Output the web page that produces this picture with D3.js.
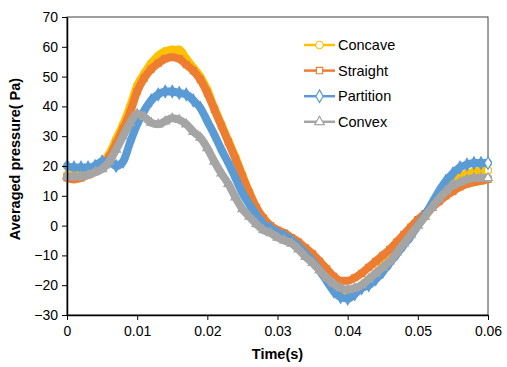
<!DOCTYPE html>
<html>
<head>
<meta charset="utf-8">
<script src="https://cdn.jsdelivr.net/npm/d3@7"></script>
<style>
  body { margin: 0; background: #fff; }
  text { font-family: "Liberation Sans", Arial, sans-serif; }
</style>
</head>
<body>
<script>
// time axis, one reading every 0.001 s
var times = d3.range(0, 61).map(i => i / 1000);

var concave = [17, 17, 17.5, 18, 19, 21, 24, 29, 34, 40,
  47, 51, 54.5, 57, 58.5, 59, 59, 56, 53, 50,
  45.5, 39.5, 34, 28.5, 23, 17, 11, 6, 2.5, 0,
  -2, -3.5, -4.5, -6.5, -8.5, -11, -13.5, -16.5, -19.5, -21.5,
  -22, -21.5, -20, -18, -16, -13.5, -11.5, -9, -6, -3,
  0, 3, 6, 9, 12, 14.5, 16.5, 17.5, 18, 18.5, 18.5];

var straight = [16, 15.5, 16, 17, 18, 20, 23, 27.5, 32.5, 38,
  45, 49.5, 52.5, 54.5, 56, 56.5, 56, 54, 52, 49,
  44.5, 39, 33.5, 28, 22.5, 16.5, 11, 6, 2.5, 0,
  -1.5, -2.5, -4, -5.5, -7.5, -9.5, -12, -14.5, -17, -18.5,
  -18.5, -17.5, -16, -14, -12, -10, -8, -5.5, -3, -0.5,
  2, 4, 6, 8, 10, 11.5, 13, 14, 14.5, 15, 15.5];

var partition = [20, 19.5, 19.5, 19.5, 20, 21.5, 21.5, 20, 21.5, 28,
  34, 38.5, 42, 44, 45, 45, 44.5, 44, 42, 39.5,
  35, 30.5, 25.5, 21, 16, 11, 7, 3.5, 0.5, -1,
  -2.5, -3.5, -5, -7, -9.5, -12, -15, -18.5, -22, -24,
  -24.5, -23, -21, -20, -18, -15.5, -12.5, -9.5, -6.5, -3.5,
  0, 3.5, 7.5, 11.5, 15, 17.5, 19.5, 20.5, 21, 21, 21];

var convex = [16.5, 16.5, 16.5, 17, 18, 19, 21.5, 25.5, 30, 34.5,
  37.5, 36.5, 34.5, 34, 35, 36, 35.5, 34, 31.5, 29.5,
  26, 21.5, 17.5, 14, 9.5, 5.5, 3, 0.5, -1.5, -2.5,
  -4, -5, -6, -8, -10.5, -12.5, -15, -17.5, -19.5, -21,
  -21.5, -21, -20, -18, -16, -14, -12, -9, -6, -3,
  0, 3, 6, 9, 11.5, 13.5, 14.5, 15.5, 16, 16, 16];

var seriesNames = ["Concave", "Straight", "Partition", "Convex"];
var seriesValues = [concave, straight, partition, convex];
var seriesColors = ["#FFC000", "#ED7D31", "#5B9BD5", "#A5A5A5"];
var seriesSymbols = [d3.symbolCircle, d3.symbolSquare, d3.symbolDiamond, d3.symbolTriangle];
var plotSizes = [40, 36, 44, 34];
var legendSizes = [44, 40, 46, 40];

var xTicks = [0, 0.01, 0.02, 0.03, 0.04, 0.05, 0.06];
var yTicks = [-30, -20, -10, 0, 10, 20, 30, 40, 50, 60, 70];

var svgWidth = 507;
var svgHeight = 367;

var margin = { top: 17, right: 19, bottom: 52, left: 67 };
var width = svgWidth - margin.left - margin.right;
var height = svgHeight - margin.top - margin.bottom;

var svg = d3.select("body")
  .append("svg")
  .attr("width", svgWidth)
  .attr("height", svgHeight);

var chartGroup = svg.append("g")
  .attr("transform", `translate(${margin.left}, ${margin.top})`);

var xScale = d3.scaleLinear().domain([0, 0.06]).range([0, width]);
var yScale = d3.scaleLinear().domain([-30, 70]).range([height, 0]);

// frame on top and right
chartGroup.append("rect")
  .attr("width", width)
  .attr("height", height)
  .attr("fill", "none")
  .attr("stroke", "#404040")
  .attr("stroke-width", 1);

// series
seriesValues.forEach(function(vals, i) {
  var pts = times.map((t, j) => ({ t: t, v: vals[j] }));
  var line = d3.line()
    .x(d => xScale(d.t))
    .y(d => yScale(d.v))
    .curve(d3.curveMonotoneX);

  var g = chartGroup.append("g");

  g.append("path")
    .datum(pts)
    .attr("d", line)
    .attr("fill", "none")
    .attr("stroke", seriesColors[i])
    .attr("stroke-width", 8)
    .attr("stroke-linejoin", "round")
    .attr("stroke-linecap", "round");

  g.selectAll("path.marker")
    .data(pts)
    .enter()
    .append("path")
    .attr("class", "marker")
    .attr("d", d3.symbol().type(seriesSymbols[i]).size(plotSizes[i]))
    .attr("transform", d => `translate(${xScale(d.t)}, ${yScale(d.v)})`)
    .attr("fill", (d, j) => j == pts.length - 1 ? "#fff" : seriesColors[i])
    .attr("stroke", seriesColors[i])
    .attr("stroke-width", 1.2);
});

// axes
var bottomAxis = d3.axisBottom(xScale)
  .tickValues(xTicks)
  .tickSize(5)
  .tickSizeOuter(0)
  .tickFormat(d => d === 0 ? "0" : d3.format(".2f")(d));
var leftAxis = d3.axisLeft(yScale)
  .tickValues(yTicks)
  .tickSize(5)
  .tickSizeOuter(0);

var xAxisG = chartGroup.append("g")
  .attr("transform", `translate(0, ${height})`)
  .call(bottomAxis);
var yAxisG = chartGroup.append("g").call(leftAxis);

[xAxisG, yAxisG].forEach(function(ax) {
  ax.select(".domain").attr("stroke", "#000").attr("stroke-width", 1.5);
  ax.selectAll(".tick line").attr("stroke", "#000").attr("stroke-width", 1);
  ax.selectAll(".tick text")
    .attr("font-family", "Liberation Sans, Arial, sans-serif")
    .attr("font-size", 14)
    .attr("fill", "#000");
});
xAxisG.selectAll(".tick text").attr("dy", "0.95em");
yAxisG.selectAll(".tick text").attr("x", -9);

// axis titles
svg.append("text")
  .attr("transform", `translate(20, ${margin.top + height / 2 - 7}) rotate(-90)`)
  .attr("text-anchor", "middle")
  .attr("font-size", 14.5)
  .attr("font-weight", "bold")
  .text("Averaged pressure( Pa)");

svg.append("text")
  .attr("x", margin.left + width / 2)
  .attr("y", 359)
  .attr("text-anchor", "middle")
  .attr("font-size", 14.5)
  .attr("font-weight", "bold")
  .text("Time(s)");

// legend
var legend = svg.append("g").attr("transform", "translate(304, 45)");
seriesNames.forEach(function(name, i) {
  var row = legend.append("g").attr("transform", `translate(0, ${i * 25.6})`);
  row.append("line")
    .attr("x1", 0).attr("x2", 31)
    .attr("stroke", seriesColors[i])
    .attr("stroke-width", 2.5);
  row.append("path")
    .attr("d", d3.symbol().type(seriesSymbols[i]).size(legendSizes[i]))
    .attr("transform", "translate(15.5, 0)")
    .attr("fill", "#fff")
    .attr("stroke", seriesColors[i])
    .attr("stroke-width", 1.2);
  row.append("text")
    .attr("x", 34)
    .attr("dy", "0.35em")
    .attr("font-size", 14.5)
    .text(name);
});
</script>
</body>
</html>
